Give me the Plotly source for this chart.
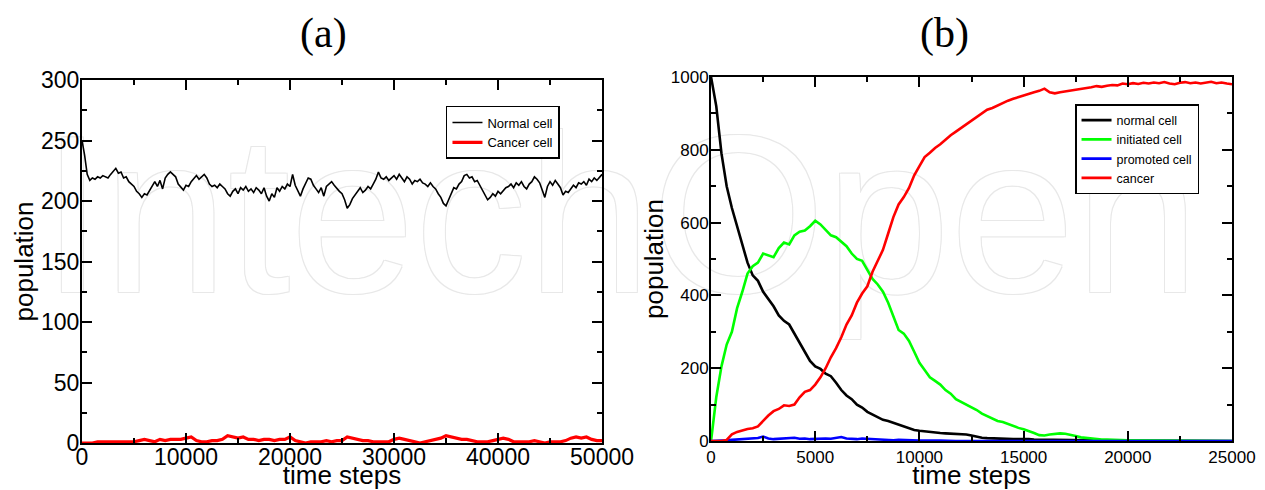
import plotly.graph_objects as go

# ---------------- data : panel (a) ----------------
step_a = 250  # sampling interval of the normal-cell series (time steps)
normal_a = [
    250, 238, 222, 217, 219, 218, 220, 219, 221, 220,
    219, 222, 225, 227, 223, 224, 219, 220, 216, 214,
    212, 208, 206, 203, 206, 205, 209, 213, 216, 212,
    217, 210, 219, 222, 224, 222, 220, 214, 211, 209,
    213, 212, 216, 219, 221, 218, 220, 222, 219, 214,
    212, 213, 211, 214, 212, 210, 206, 204, 208, 210,
    206, 211, 209, 212, 208, 210, 207, 211, 209, 206,
    211, 204, 200, 206, 203, 211, 208, 212, 210, 214,
    212, 222, 213, 208, 204, 210, 214, 219, 218, 213,
    210, 207, 211, 204, 212, 214, 216, 213, 210, 208,
    206, 201, 194, 197, 202, 205, 208, 211, 207, 209,
    212, 210, 214, 218, 224, 219, 218, 220, 217, 219,
    221, 218, 222, 219, 216, 220, 218, 214, 217, 216,
    218, 215, 214, 212, 215, 212, 210, 206, 203, 198,
    196, 201, 206, 211, 210, 214, 216, 221, 222, 219,
    220, 216, 217, 213, 210, 205, 201, 203, 206, 204,
    208, 206, 209, 211, 212, 214, 211, 215, 213, 216,
    212, 210, 214, 216, 220, 218, 215, 209, 203, 212,
    216, 213, 217, 214, 211, 205, 208, 207, 210, 213,
    211, 215, 214, 216, 213, 218, 216, 219, 217, 220,
    222,
]
step_a_red = 500  # sampling interval of the cancer-cell series
cancer_a = [
    0, 0, 0, 1, 1, 1, 1, 1, 1, 1,
    1, 2, 3, 2, 1, 3, 2, 3, 3, 3,
    4, 5, 2, 1, 1, 2, 2, 3, 6, 5,
    4, 5, 3, 3, 2, 3, 3, 2, 3, 3,
    5, 2, 1, 0, 1, 1, 1, 2, 1, 2,
    2, 5, 4, 3, 2, 2, 1, 1, 1, 1,
    3, 4, 3, 2, 1, 0, 1, 2, 3, 4,
    6, 5, 4, 3, 3, 2, 1, 1, 1, 2,
    3, 4, 3, 1, 1, 1, 1, 2, 1, 0,
    1, 1, 1, 2, 4, 5, 4, 5, 3, 2,
    2,
]

# ---------------- data : panel (b) ----------------
step_b = 250
normal_b = [
    1000, 920, 790, 700, 640, 590, 545, 490, 455, 440,
    410, 390, 370, 345, 330, 320, 295, 270, 248, 220,
    205, 198, 185, 178, 160, 140, 125, 115, 100, 92,
    80, 72, 65, 58, 55, 50, 45, 40, 33, 30,
    28, 26, 25, 23, 22, 21, 20, 21, 20, 18,
    15, 11, 9, 8, 7, 7, 6, 6, 5, 5,
    6, 5, 4, 4, 4, 3, 4, 3, 3, 2,
    2, 2, 2, 2, 1, 1, 1, 1, 1, 1,
    1, 0, 0, 0, 0, 0, 0, 0, 0, 0,
    0, 0, 0, 0, 0, 0, 0, 0, 0, 0,
    0,
]
initiated_b = [
    0, 120, 205, 265, 300, 365, 410, 460, 480, 490,
    515, 510, 505, 530, 545, 540, 565, 575, 578, 590,
    605, 595, 580, 565, 560, 548, 535, 515, 500, 495,
    470, 445, 430, 410, 380, 345, 305, 295, 275, 245,
    215, 195, 175, 165, 155, 140, 130, 115, 108, 100,
    92, 85, 75, 68, 60, 55, 52, 46, 42, 36,
    32, 28, 22, 16, 15, 18, 20, 21, 20, 18,
    14, 10, 8, 6, 5, 4, 4, 3, 3, 3,
    2, 2, 2, 2, 1, 1, 1, 1, 2, 1,
    1, 1, 1, 0, 0, 0, 0, 0, 0, 0,
    0,
]
promoted_b = [
    0, 0, 1, 2, 3, 4, 5, 6, 7, 8,
    12, 7, 5, 6, 8, 7, 9, 6, 7, 5,
    6, 8, 7, 6, 8, 11, 7, 6, 5, 7,
    6, 4, 5, 4, 3, 2, 3, 2, 1, 2,
    1, 1, 2, 1, 1, 0, 0, 0, 0, 0,
    0, 0, 0, 0, 0, 0, 0, 0, 0, 0,
    0, 0, 0, 0, 0, 0, 0, 0, 0, 0,
    0, 0, 0, 0, 0, 0, 0, 0, 0, 0,
    0, 0, 0, 0, 0, 0, 0, 0, 0, 0,
    0, 0, 0, 0, 0, 0, 0, 0, 0, 0,
    0,
]
cancer_b = [
    0, 0, 0, 3, 18, 25, 30, 33, 35, 40,
    55, 70, 82, 88, 98, 96, 100, 120, 135, 140,
    155, 175, 200, 230, 255, 285, 320, 345, 380, 405,
    425, 465, 495, 525, 570, 615, 650, 670, 695, 730,
    755, 780, 792, 805, 815, 828, 840, 850, 860, 868,
    880, 890, 898, 910, 915, 922, 928, 935, 940, 945,
    950, 955, 958, 962, 968, 958, 955, 958, 960, 963,
    965, 968, 970, 972, 975, 973, 976, 978, 977, 982,
    980, 983, 981, 984, 982, 985, 983, 986, 982, 980,
    984, 986, 983, 985, 982, 984, 987, 983, 985, 982,
    980,
]

# axis ticks
xticks_a = [0, 10000, 20000, 30000, 40000, 50000]
yticks_a = [0, 50, 100, 150, 200, 250, 300]
xticks_b = [0, 5000, 10000, 15000, 20000, 25000]
yticks_b = [0, 200, 400, 600, 800, 1000]

time_a = [i * step_a for i in range(len(normal_a))]
time_a_red = [i * step_a_red for i in range(len(cancer_a))]
time_b = [i * step_b for i in range(len(normal_b))]

SANS = "Liberation Sans, Arial, Helvetica, sans-serif"
SERIF = "Liberation Serif, Times New Roman, serif"

fig = go.Figure()

# faint watermark, drawn first (underneath everything) on a hidden full-size axis pair
fig.add_trace(go.Scatter(
    x=[0.468], y=[0.565], mode="text", text=["IntechOpen"],
    textposition="middle center", cliponaxis=False, showlegend=False, hoverinfo="skip",
    textfont=dict(family=SANS, size=224, color="white",
                  shadow="1px 1px 0 #e8e8e8, -1px -1px 0 #e8e8e8, 1px -1px 0 #e8e8e8, -1px 1px 0 #e8e8e8"),
    xaxis="x", yaxis="y",
))

# panel (a)
fig.add_trace(go.Scatter(x=time_a, y=normal_a, mode="lines", name="Normal cell",
                         line=dict(color="black", width=1.6), xaxis="x2", yaxis="y2", legend="legend"))
fig.add_trace(go.Scatter(x=time_a_red, y=cancer_a, mode="lines", name="Cancer cell",
                         line=dict(color="#ff0000", width=3.2), xaxis="x2", yaxis="y2", legend="legend"))

# panel (b)
for name, vals, col in [("normal cell", normal_b, "black"),
                        ("initiated cell", initiated_b, "#00ff00"),
                        ("promoted cell", promoted_b, "#0000ff"),
                        ("cancer", cancer_b, "#ff0000")]:
    fig.add_trace(go.Scatter(x=time_b, y=vals, mode="lines", name=name,
                             line=dict(color=col, width=2.6), xaxis="x3", yaxis="y3",
                             legend="legend2"))


def axis(tickvals, rng, minor_dtick, font_size, title, domain, anchor, standoff, label_shift):
    return dict(
        domain=domain, anchor=anchor, range=rng, autorange=False, automargin=False,
        tickmode="array", tickvals=tickvals, ticktext=[str(v) for v in tickvals],
        showline=True, linecolor="black", linewidth=2, mirror="allticks",
        ticks="inside", ticklen=10, tickwidth=1.5, tickcolor="black",
        ticklabelstandoff=label_shift,
        showgrid=False, zeroline=False,
        tickfont=dict(family=SANS, size=font_size, color="black"),
        minor=dict(dtick=minor_dtick, tick0=0, ticks="inside", ticklen=5,
                   tickwidth=1.5, tickcolor="black", showgrid=False),
        title=dict(text=title, font=dict(family=SANS, size=26, color="black"),
                   standoff=standoff),
    )


fig.update_layout(
    width=1265, height=490,
    margin=dict(l=82, r=33, t=77, b=47, autoexpand=False),
    paper_bgcolor="white", plot_bgcolor="rgba(0,0,0,0)",
    xaxis=dict(domain=[0, 1], range=[0, 1], visible=False, fixedrange=True, automargin=False),
    yaxis=dict(domain=[0, 1], range=[0, 1], visible=False, fixedrange=True, automargin=False),
    xaxis2=axis(xticks_a, [0, 50000], 5000, 23, "time steps", [0, 0.4522], "y2", 8, -8),
    yaxis2=axis(yticks_a, [0, 300], 25, 23, "population", [0, 0.9918], "x2", 0, -4),
    xaxis3=axis(xticks_b, [0, 25000], 2500, 17, "time steps", [0.547, 1.0], "y3", 0, 0),
    yaxis3=axis(yticks_b, [0, 1000], 100, 17, "population", [0.0055, 1.0], "x3", 0, -3),
    legend=dict(x=0.3165, y=0.9208, xanchor="left", yanchor="top",
                bgcolor="white", bordercolor="black", borderwidth=1.5,
                font=dict(family=SANS, size=13, color="black"), tracegroupgap=0),
    legend2=dict(x=0.8635, y=0.9262, xanchor="left", yanchor="top",
                 bgcolor="white", bordercolor="black", borderwidth=1.5,
                 font=dict(family=SANS, size=12.5, color="black"), tracegroupgap=0),
    annotations=[
        dict(text="(a)", xref="paper", yref="paper", x=0.2096, y=1.119,
             xanchor="center", yanchor="middle", showarrow=False,
             font=dict(family=SERIF, size=42, color="black")),
        dict(text="(b)", xref="paper", yref="paper", x=0.7496, y=1.119,
             xanchor="center", yanchor="middle", showarrow=False,
             font=dict(family=SERIF, size=42, color="black")),
    ],
    showlegend=True,
)

fig.write_html("out.html", config={"displayModeBar": False},
               post_script="document.body.style.margin='0px';")
